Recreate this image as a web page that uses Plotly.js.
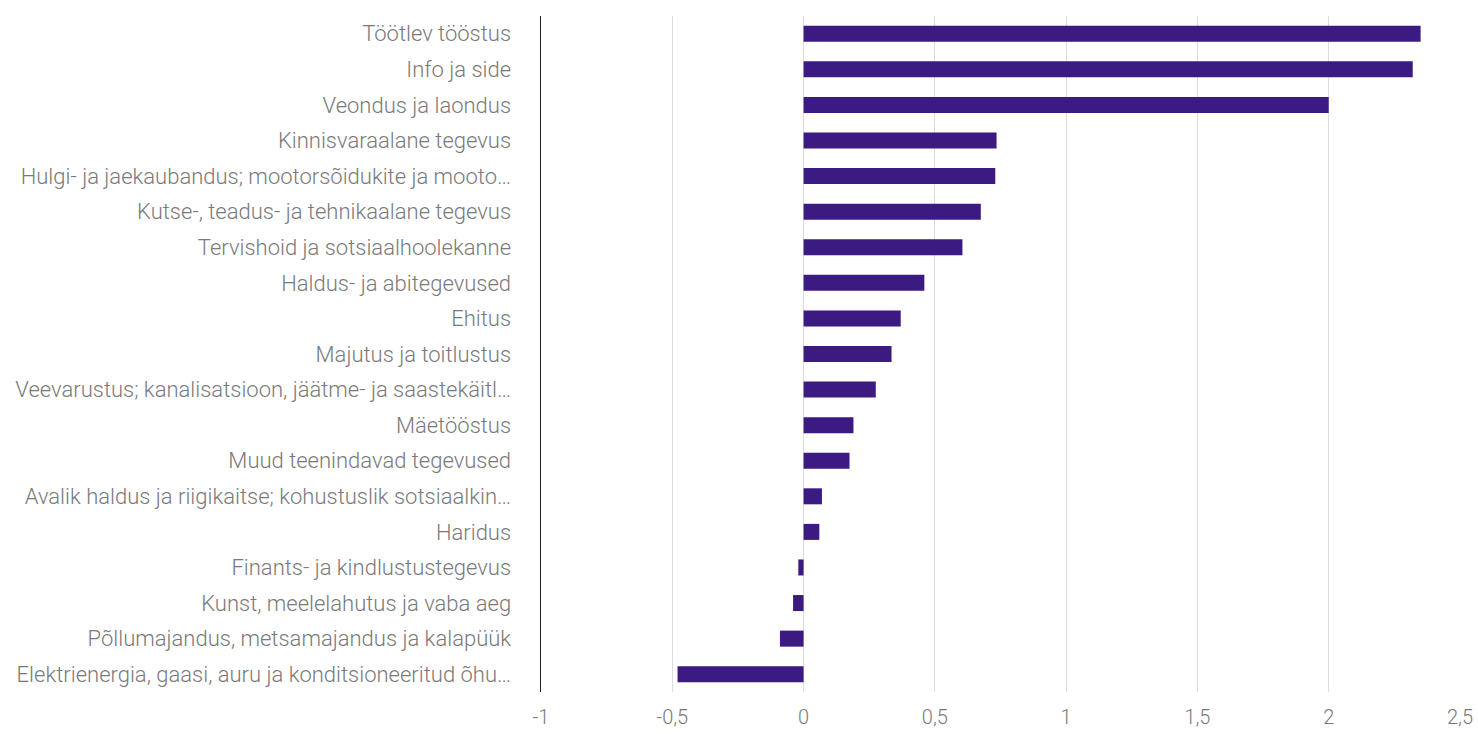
<!DOCTYPE html>
<html>
<head>
<meta charset="utf-8">
<script src="https://cdn.plot.ly/plotly-3.0.1.min.js"></script>
<style>html,body{margin:0;padding:0;background:#fff;}#chart{width:1478px;height:734px;}</style>
</head>
<body>
<div id="chart"></div>
<script>
const categories = [
  "Töötlev tööstus",
  "Info ja side",
  "Veondus ja laondus",
  "Kinnisvaraalane tegevus",
  "Hulgi- ja jaekaubandus; mootorsõidukite ja mooto…",
  "Kutse-, teadus- ja tehnikaalane tegevus",
  "Tervishoid ja sotsiaalhoolekanne",
  "Haldus- ja abitegevused",
  "Ehitus",
  "Majutus ja toitlustus",
  "Veevarustus; kanalisatsioon, jäätme- ja saastekäitl…",
  "Mäetööstus",
  "Muud teenindavad tegevused",
  "Avalik haldus ja riigikaitse; kohustuslik sotsiaalkin…",
  "Haridus",
  "Finants- ja kindlustustegevus",
  "Kunst, meelelahutus ja vaba aeg",
  "Põllumajandus, metsamajandus ja kalapüük",
  "Elektrienergia, gaasi, auru ja konditsioneeritud õhu…"
];
const values = [2.35, 2.32, 2.0, 0.735, 0.73, 0.675, 0.605, 0.46, 0.37, 0.335, 0.275, 0.19, 0.175, 0.07, 0.06, -0.02, -0.04, -0.09, -0.48];
const xTickVals = [-1, -0.5, 0, 0.5, 1, 1.5, 2, 2.5];
const xTickText = ["-1", "-0,5", "0", "0,5", "1", "1,5", "2", "2,5"];

const trace = {
  type: "bar",
  orientation: "h",
  x: values,
  y: categories,
  marker: {color: "#3b1a82"},
  hoverinfo: "x+y"
};

const layout = {
  width: 1478,
  height: 734,
  margin: {l: 541, r: 18, t: 16, b: 42},
  paper_bgcolor: "#ffffff",
  plot_bgcolor: "#ffffff",
  showlegend: false,
  bargap: 0.55,
  font: {family: "Roboto, sans-serif", size: 22, color: "#7a7a7a", weight: 300},
  xaxis: {
    range: [-1, 2.5],
    tickvals: xTickVals,
    ticktext: xTickText,
    showgrid: true,
    gridcolor: "#dcdcdc",
    gridwidth: 1,
    zeroline: true,
    zerolinecolor: "#dcdcdc",
    zerolinewidth: 1,
    showline: false,
    ticks: "",
    ticklabelstandoff: 11,
    tickfont: {family: "Roboto, sans-serif", size: 20, color: "#7a7a7a", weight: 300}
  },
  yaxis: {
    type: "category",
    autorange: "reversed",
    showline: true,
    linecolor: "#222222",
    linewidth: 1.5,
    showgrid: false,
    ticks: "",
    ticklabelstandoff: 24,
    tickfont: {family: "Roboto, sans-serif", size: 22, color: "#7a7a7a", weight: 300}
  }
};

Plotly.newPlot("chart", [trace], layout, {displayModeBar: false, staticPlot: true});
</script>
</body>
</html>
